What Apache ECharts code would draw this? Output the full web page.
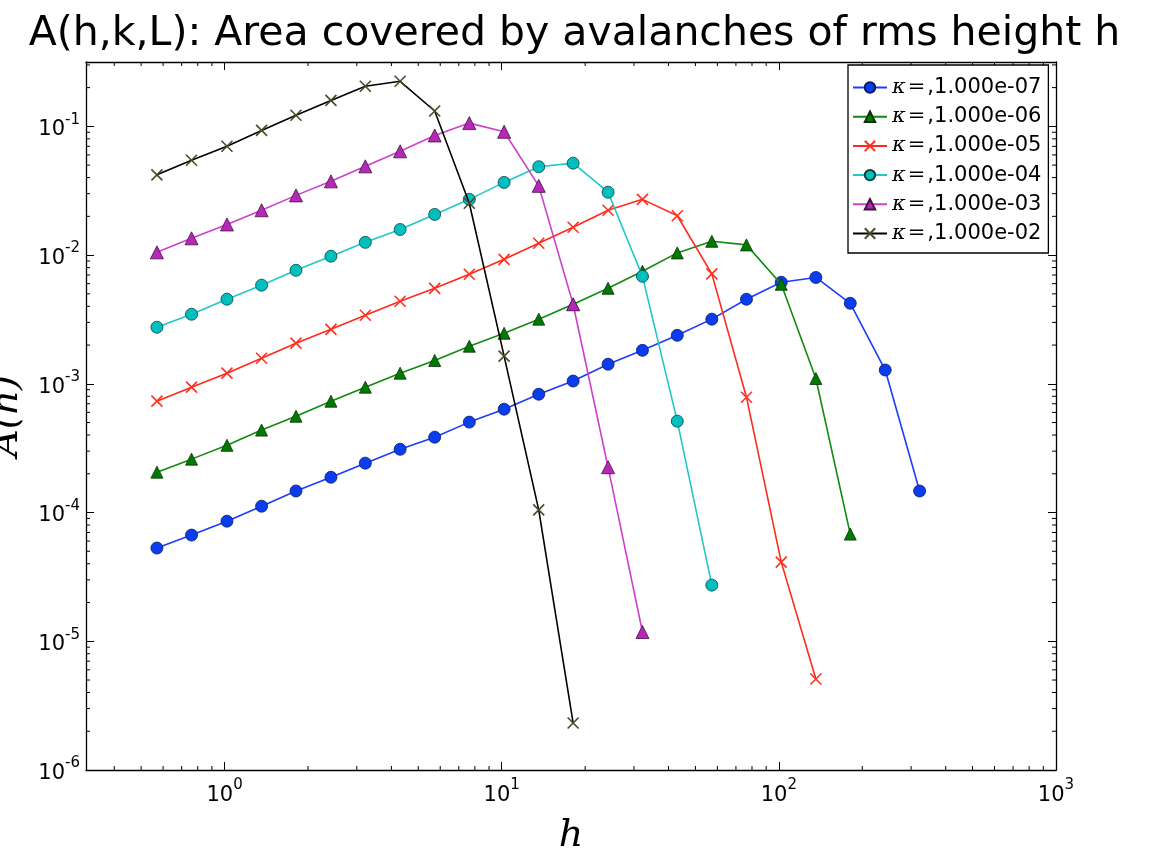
<!DOCTYPE html>
<html>
<head>
<meta charset="utf-8">
<script src="https://cdn.jsdelivr.net/npm/echarts@6/dist/echarts.min.js"></script>
<style>html,body{margin:0;padding:0;background:#fff}#c{width:1149px;height:850px}</style>
</head>
<body>
<div id="c"></div>
<script>
// ---- data ----
const hValues = [0.57, 0.76, 1.02, 1.36, 1.81, 2.42, 3.22, 4.30, 5.73, 7.64, 10.2, 13.6, 18.1, 24.2, 32.2, 43.0, 57.3, 76.4, 102, 136, 181, 242, 322];
const kappaLabels = ['1.000e-07', '1.000e-06', '1.000e-05', '1.000e-04', '1.000e-03', '1.000e-02'];
const areaK7 = [5.3e-5, 6.68e-5, 8.57e-5, 1.12e-4, 1.47e-4, 1.88e-4, 2.42e-4, 3.1e-4, 3.85e-4, 5.04e-4, 6.35e-4, 8.3e-4, 1.05e-3, 1.42e-3, 1.82e-3, 2.38e-3, 3.18e-3, 4.54e-3, 6.15e-3, 6.7e-3, 4.22e-3, 1.28e-3, 1.47e-4];
const areaK6 = [2.06e-4, 2.6e-4, 3.33e-4, 4.37e-4, 5.6e-4, 7.33e-4, 9.42e-4, 1.21e-3, 1.52e-3, 1.96e-3, 2.47e-3, 3.18e-3, 4.15e-3, 5.52e-3, 7.48e-3, 0.0104, 0.0128, 0.0120, 5.93e-3, 1.1e-3, 6.8e-5];
const areaK5 = [7.33e-4, 9.42e-4, 1.21e-3, 1.58e-3, 2.07e-3, 2.65e-3, 3.41e-3, 4.38e-3, 5.52e-3, 7.1e-3, 9.27e-3, 0.01236, 0.01644, 0.0223, 0.0271, 0.0202, 7.15e-3, 7.87e-4, 4.12e-5, 5.09e-6];
const areaK4 = [2.75e-3, 3.47e-3, 4.54e-3, 5.84e-3, 7.62e-3, 9.8e-3, 0.01256, 0.0158, 0.0207, 0.0271, 0.0367, 0.0486, 0.0518, 0.0308, 6.84e-3, 5.13e-4, 2.73e-5];
const areaK3 = [0.0105, 0.0135, 0.0173, 0.0223, 0.0291, 0.0374, 0.0489, 0.064, 0.085, 0.106, 0.0908, 0.0345, 4.15e-3, 2.25e-4, 1.18e-5];
const areaK2 = [0.042, 0.0545, 0.070, 0.093, 0.122, 0.159, 0.205, 0.224, 0.1316, 0.0253, 1.64e-3, 1.05e-4, 2.32e-6];
const xMajorTicks = ['10^0', '10^1', '10^2', '10^3'];
const yMajorTicks = ['10^-6', '10^-5', '10^-4', '10^-3', '10^-2', '10^-1'];

const seriesValues = [areaK7, areaK6, areaK5, areaK4, areaK3, areaK2];
const lineColors = ['#1a3cff', '#108a10', '#ff2a1a', '#20c8c8', '#cc40cc', '#000000'];
const markerFills = ['#0a3cf0', '#007a00', 'none', '#00bfbf', '#b828b8', 'none'];
const markerStrokes = ['#0a1a60', '#0a300a', '#ff3020', '#0a4040', '#401040', '#4a4a28'];
const xPath = 'path://M0,0L10,10M0,10L10,0';
const markerShapes = ['circle', 'triangle', xPath, 'circle', 'triangle', xPath];
const markerSizes = [12, 12, 11, 12, 13, 11];

const xMin = Math.pow(10, -0.5), xMax = 1000;
const yMin = 1e-6, yMax = Math.pow(10, -0.5);

const FONT = 'DejaVu Sans';
function powLabel(v) {
  const e = Math.log10(v);
  const r = Math.round(e);
  if (Math.abs(e - r) > 1e-6) return '';
  return '{b|10}{s|' + r + '}';
}
const labelRich = {
  b: { fontSize: 21, fontFamily: FONT, color: '#000', lineHeight: 28, verticalAlign: 'bottom' },
  s: { fontSize: 15, fontFamily: FONT, color: '#000', lineHeight: 16, verticalAlign: 'top' }
};

// minor tick positions (2..9 x 10^n)
const xMinor = [], yMinor = [];
for (let n = -1; n <= 2; n++) for (let k = 2; k <= 9; k++) { const v = k * Math.pow(10, n); if (v > xMin && v < xMax) xMinor.push([v, 1e-3]); }
for (let n = -6; n <= -1; n++) for (let k = 2; k <= 9; k++) { const v = k * Math.pow(10, n); if (v > yMin && v < yMax) yMinor.push([1, v]); }

const chart = echarts.init(document.getElementById('c'), null, { renderer: 'canvas' });

function axisCommon(extra) {
  return Object.assign({
    type: 'log', logBase: 10,
    axisLine: { show: true, onZero: false, lineStyle: { color: '#000', width: 1.3 } },
    axisTick: { show: true, inside: true, length: 8, lineStyle: { color: '#000', width: 1 } },
    splitLine: { show: false },
    minorTick: { show: false }
  }, extra);
}

const lineSeries = seriesValues.map((vals, i) => ({
  type: 'line',
  name: kappaLabels[i],
  xAxisIndex: 0, yAxisIndex: 0,
  data: vals.map((a, j) => [hValues[j], a]),
  symbol: markerShapes[i],
  symbolSize: markerSizes[i],
  showAllSymbol: true,
  lineStyle: { color: lineColors[i], width: 1.6 },
  itemStyle: {
    color: markerFills[i] === 'none' ? markerStrokes[i] : markerFills[i],
    borderColor: markerStrokes[i],
    borderWidth: markerFills[i] === 'none' ? 1.6 : 0.8
  },
  emphasis: { disabled: true },
  animation: false,
  z: 3 + i
}));

const minorX = {
  type: 'custom', name: '_mx', xAxisIndex: 0, yAxisIndex: 0, silent: true, clip: false,
  data: xMinor,
  renderItem: function (params, api) {
    const p = api.coord([api.value(0), api.value(1)]);
    const cs = params.coordSys;
    const style = { stroke: '#000', lineWidth: 1 };
    return { type: 'group', children: [
      { type: 'line', shape: { x1: p[0], y1: cs.y + cs.height, x2: p[0], y2: cs.y + cs.height - 4 }, style: style },
      { type: 'line', shape: { x1: p[0], y1: cs.y, x2: p[0], y2: cs.y + 4 }, style: style }
    ] };
  }
};
const minorY = {
  type: 'custom', name: '_my', xAxisIndex: 0, yAxisIndex: 0, silent: true, clip: false,
  data: yMinor,
  renderItem: function (params, api) {
    const p = api.coord([api.value(0), api.value(1)]);
    const cs = params.coordSys;
    const style = { stroke: '#000', lineWidth: 1 };
    return { type: 'group', children: [
      { type: 'line', shape: { x1: cs.x, y1: p[1], x2: cs.x + 4, y2: p[1] }, style: style },
      { type: 'line', shape: { x1: cs.x + cs.width, y1: p[1], x2: cs.x + cs.width - 4, y2: p[1] }, style: style }
    ] };
  }
};

chart.setOption({
  animation: false,
  backgroundColor: '#fff',
  title: {
    text: 'A(h,k,L): Area covered by avalanches of rms height h',
    left: 'center', top: 9,
    textStyle: { fontFamily: FONT, fontSize: 41, fontWeight: 'normal', color: '#000' }
  },
  grid: { left: 86, right: 93, top: 62, bottom: 80, containLabel: false, outerBoundsMode: 'none' },
  legend: {
    data: kappaLabels,
    orient: 'vertical',
    left: 848, top: 65,
    padding: [12, 7, 9, 4],
    itemGap: 8.2,
    itemWidth: 34, itemHeight: 13,
    backgroundColor: '#fff',
    borderColor: '#000', borderWidth: 1.3, borderRadius: 0,
    formatter: function (name) { return '{k|κ}{e|=}{t|,' + name + '}'; },
    textStyle: {
      fontFamily: FONT, fontSize: 20, color: '#000',
      rich: {
        k: { fontFamily: 'DejaVu Serif', fontStyle: 'italic', fontSize: 21, color: '#000' },
        e: { fontFamily: 'DejaVu Serif', fontSize: 21, color: '#000', padding: [0, 2, 0, 2] },
        t: { fontFamily: FONT, fontSize: 21, color: '#000' }
      }
    },
    selectedMode: false,
    z: 20
  },
  xAxis: [
    axisCommon({
      position: 'bottom', min: xMin, max: xMax,
      name: 'h', nameLocation: 'middle', nameGap: 47,
      nameTextStyle: { fontFamily: 'DejaVu Serif', fontStyle: 'italic', fontSize: 38, color: '#000' },
      axisLabel: { show: true, margin: 8, formatter: powLabel, rich: labelRich }
    }),
    axisCommon({ position: 'top', min: xMin, max: xMax, axisLabel: { show: false } })
  ],
  yAxis: [
    axisCommon({
      position: 'left', min: yMin, max: yMax,
      name: 'A(h)', nameLocation: 'middle', nameGap: 60, nameRotate: 90,
      nameTextStyle: { fontFamily: 'DejaVu Serif', fontStyle: 'italic', fontSize: 38, color: '#000' },
      axisLabel: { show: true, margin: 6, formatter: powLabel, rich: labelRich }
    }),
    axisCommon({ position: 'right', min: yMin, max: yMax, axisLabel: { show: false } })
  ],
  series: lineSeries.concat([minorX, minorY])
});
</script>
</body>
</html>
